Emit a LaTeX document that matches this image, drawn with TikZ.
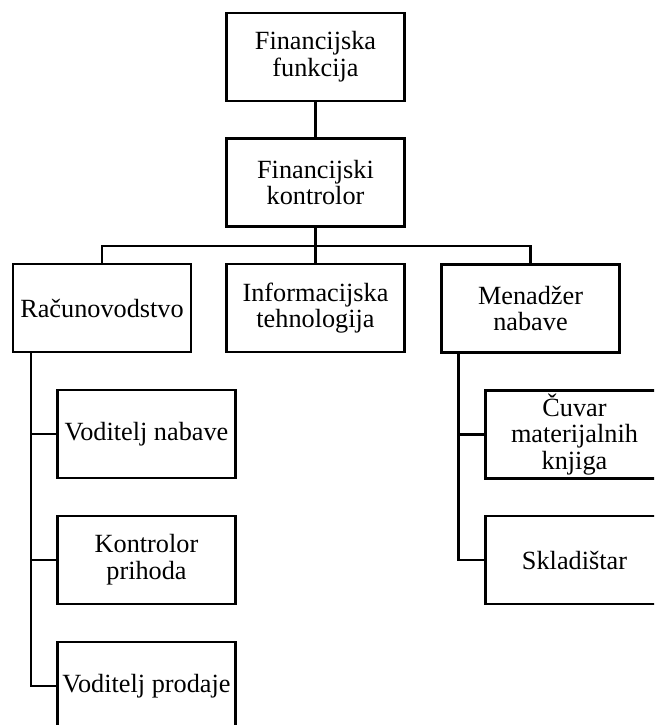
\documentclass[tikz,border=0pt]{standalone}
\usepackage{fontspec}
\setmainfont{Liberation Serif}
\usetikzlibrary{calc}
\tikzset{
  orgbox/.style={draw, line width=1.6pt, minimum width=133.5pt, minimum height=66pt, inner sep=1pt, align=center,
    font=\fontsize{19.7}{20}\selectfont},
  conn/.style={line width=1.6pt}
}
\begin{document}
\begin{tikzpicture}[x=0.75pt, y=-0.75pt]
\clip (0,0) rectangle (654,725);
\node[orgbox] (A) at (315.5,57) {Financijska\\funkcija};
\node[orgbox] (B) at (315.5,182.5) {Financijski\\kontrolor};
\node[orgbox] (C1) at (102,308) {Računovodstvo};
\node[orgbox] (C2) at (315.5,308) {Informacijska\\tehnologija};
\node[orgbox] (C3) at (530.5,308.5) {Menadžer\\nabave};
\node[orgbox] (D1) at (146.5,434) {Voditelj nabave};
\node[orgbox] (D2) at (146.5,560) {Kontrolor\\prihoda};
\node[orgbox] (D3) at (146.5,686) {Voditelj prodaje};
\node[orgbox] (E1) at (574.5,434.5) {Čuvar\\materijalnih\\knjiga};
\node[orgbox] (E2) at (574.5,560) {Skladištar};
\coordinate (bus) at (315.5,246);
\coordinate (Ltop) at ($(C1.south west)+(19,0)$);
\coordinate (Rtop) at ($(C3.south west)+(18,0)$);
\draw[conn] (A.south) -- (B.north);
\draw[conn] (B.south) -- (bus);
\draw[conn] (bus) -- (C2.north);
\draw[conn] (C1.north) -- (C1.north |- bus) -- (C3.north |- bus) -- (C3.north);
\draw[conn] (Ltop) |- (D3.west);
\draw[conn] (Ltop |- D1.west) -- (D1.west);
\draw[conn] (Ltop |- D2.west) -- (D2.west);
\draw[conn] (Rtop) |- (E2.west);
\draw[conn] (Rtop |- E1.west) -- (E1.west);
\end{tikzpicture}
\end{document}
